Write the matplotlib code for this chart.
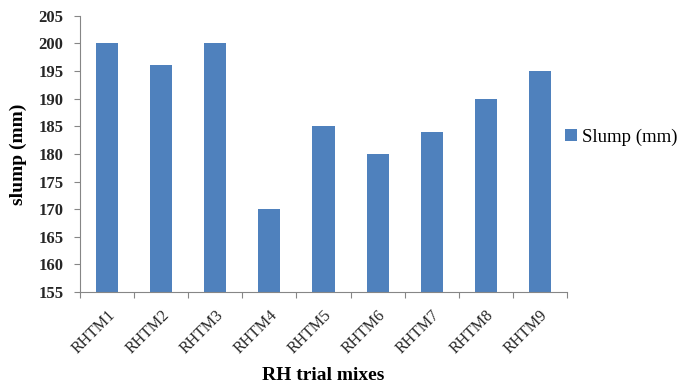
import numpy as np
from matplotlib import pyplot as plt

mixes = ['RHTM1', 'RHTM2', 'RHTM3', 'RHTM4', 'RHTM5',
         'RHTM6', 'RHTM7', 'RHTM8', 'RHTM9']
slump = [200, 196, 200, 170, 185, 180, 184, 190, 195]
yticks = list(range(155, 206, 5))

plt.rcParams['font.family'] = ['Liberation Serif', 'DejaVu Serif']

fig = plt.figure(figsize=(6.86, 3.89), dpi=100)
ax = fig.add_axes([0.1166, 0.249, 0.7099, 0.711])

x = np.arange(len(mixes))
ax.bar(x, slump, width=0.41, color='#4F81BD', label='Slump (mm)', zorder=2)

ax.set_xlim(-0.5, len(mixes) - 0.5)
ax.set_ylim(155, 205)
ax.set_yticks(yticks)
ax.set_yticklabels([str(v) for v in yticks], fontsize=12, fontweight='bold',
                   color='#262626')

# tick marks between categories, labels under the bars
ax.set_xticks(np.arange(len(mixes) + 1) - 0.5)
ax.set_xticklabels([])
ax.set_xticks(x, minor=True)
ax.set_xticklabels(mixes, minor=True, rotation=45, ha='right',
                   rotation_mode='anchor', fontsize=11.5, color='#262626')
ax.tick_params(axis='x', which='minor', length=0, pad=11)
ax.tick_params(axis='x', which='major', length=4, color='#868686')
ax.tick_params(axis='y', length=4, color='#868686', pad=8)

for side in ['top', 'right']:
    ax.spines[side].set_visible(False)
for side in ['left', 'bottom']:
    ax.spines[side].set_color('#868686')

ax.set_ylabel('slump (mm)', fontsize=14, fontweight='bold')
ax.yaxis.set_label_coords(-0.108, 0.5)
ax.set_xlabel('RH trial mixes', fontsize=14, fontweight='bold')
ax.xaxis.set_label_coords(0.5, -0.272)

ax.legend(loc='center left', bbox_to_anchor=(0.962, 0.56), frameon=False,
          fontsize=13.5, handlelength=0.6, handleheight=0.6, handletextpad=0.3)

plt.savefig('out.png', dpi=100)
